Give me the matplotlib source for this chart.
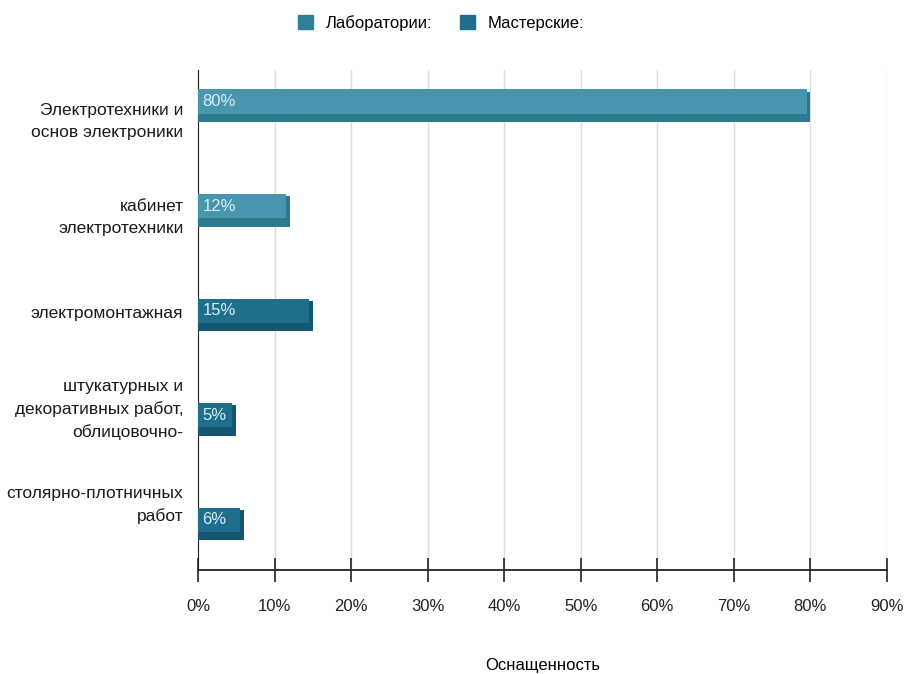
import numpy as np
import matplotlib.pyplot as plt

plt.rcParams['font.family'] = ['Liberation Sans', 'DejaVu Sans']

categories = [
    "Электротехники и\nосновы электроники".replace("основы", "основ"),
    "кабинет\nэлектротехники",
    "электромонтажная",
    "штукатурных и\nдекоративных работ,\nоблицовочно-",
    "столярно-плотничных\nработ",
]
values = [80, 12, 15, 5, 6]
groups = ["Лаборатории:", "Лаборатории:", "Мастерские:", "Мастерские:", "Мастерские:"]
legend_names = ["Лаборатории:", "Мастерские:"]

face = {"Лаборатории:": "#4796ae", "Мастерские:": "#1f6e8b"}
side = {"Лаборатории:": "#2e7890", "Мастерские:": "#145770"}
legend_colors = {"Лаборатории:": "#2f7f98", "Мастерские:": "#1f6e8b"}

fig = plt.figure(figsize=(9.06, 6.74), dpi=100)
ax = fig.add_axes([0.2185, 0.154, 0.7605, 0.742])

pos = np.arange(len(values))
vals = np.array(values, dtype=float)
fc = [face[g] for g in groups]
sc = [side[g] for g in groups]

# "3d" look: darker block behind, lighter face on top
ax.barh(pos + 0.03, vals, height=0.29, color=sc, zorder=3)
ax.barh(pos - 0.02, vals - 0.5, height=0.23, color=fc, zorder=4)

for p, v in zip(pos, values):
    ax.text(0.6, p - 0.02, f"{v}%", color="#d9eef5", fontsize=12,
            va="center", ha="left", zorder=5)

ax.set_xlim(0, 90)
ax.set_ylim(4.46, -0.32)
ax.set_xticks(np.arange(0, 91, 10))
ax.set_xticklabels([f"{t}%" for t in range(0, 91, 10)], fontsize=12)
ax.tick_params(axis="x", direction="inout", length=17, width=1.2, pad=12, colors="#222222")
ax.set_yticks([])
ax.grid(axis="x", color="#dcdcdc", linewidth=1, zorder=0)

for s in ["top", "right"]:
    ax.spines[s].set_visible(False)
ax.spines["left"].set_color("#222222")
ax.spines["bottom"].set_color("#222222")
ax.spines["bottom"].set_linewidth(1.3)

# category labels sit slightly off the bar centres
label_y = np.linspace(0.17, 3.84, len(categories))
for y, c in zip(label_y, categories):
    ax.text(-1.9, y, c, ha="right", va="center", fontsize=12.5,
            linespacing=1.55, color="#1a1a1a")

ax.set_xlabel("Оснащенность", fontsize=12, labelpad=32)

handles = [plt.Rectangle((0, 0), 1, 1, color=legend_colors[g]) for g in legend_names]
fig.legend(handles, legend_names, loc="upper center",
           bbox_to_anchor=(0.487, 1.0), ncol=2, frameon=False, fontsize=12,
           handlelength=0.9, handleheight=0.9, columnspacing=1.6, handletextpad=0.8)

fig.savefig("out.png", dpi=100, facecolor="white")
